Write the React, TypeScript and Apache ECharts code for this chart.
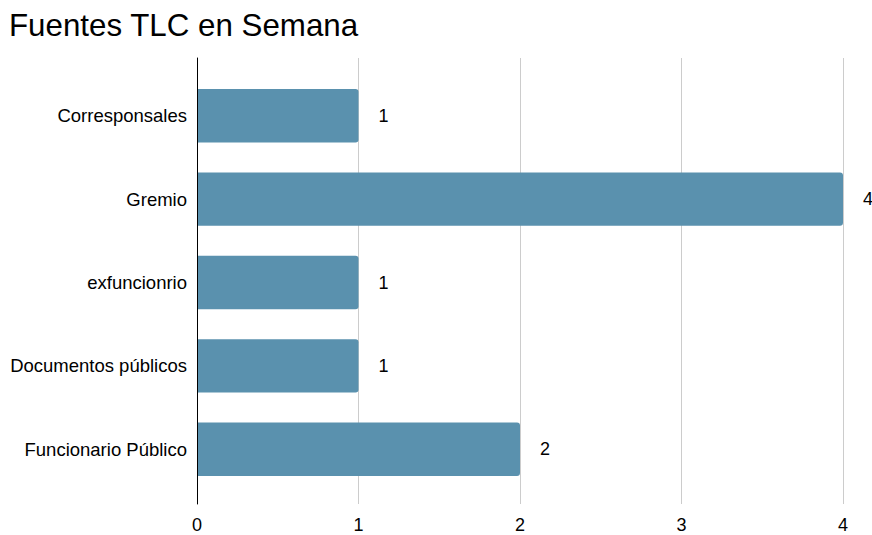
import React, { useEffect, useRef } from "react";
import * as echarts from "echarts";

const categories = ["Corresponsales", "Gremio", "exfuncionrio", "Documentos públicos", "Funcionario Público"];
const values = [1, 4, 1, 1, 2];
const xTicks = [0, 1, 2, 3, 4];

const FONT = "'Liberation Sans', Arial, sans-serif";

export default function App() {
  const ref = useRef<HTMLDivElement>(null);
  useEffect(() => {
    const chart = echarts.init(ref.current!, null, { renderer: "svg" });
    chart.setOption({
      animation: false,
      backgroundColor: "#ffffff",
      textStyle: { fontFamily: FONT },
      title: {
        text: "Fuentes TLC en Semana",
        left: 4,
        top: 5,
        textStyle: { fontSize: 31.3, fontWeight: "normal", color: "#000", fontFamily: FONT },
      },
      grid: [
        { left: 197, right: 29, top: 58, bottom: 31, containLabel: false },
        { left: 197, right: 29, top: 74, bottom: 44, containLabel: false },
      ],
      xAxis: [
        {
          gridIndex: 0,
          type: "value",
          min: xTicks[0],
          max: xTicks[xTicks.length - 1],
          interval: 1,
          axisLine: { show: false },
          axisTick: { show: false },
          splitLine: { show: true, lineStyle: { color: "#cccccc", width: 1 } },
          axisLabel: { color: "#000", fontSize: 18, margin: 12 },
        },
        {
          gridIndex: 1,
          type: "value",
          min: xTicks[0],
          max: xTicks[xTicks.length - 1],
          interval: 1,
          show: false,
        },
      ],
      yAxis: [
        {
          gridIndex: 0,
          type: "value",
          min: 0,
          max: 1,
          axisLine: { show: true, onZero: false, lineStyle: { color: "#000", width: 1 } },
          axisTick: { show: false },
          axisLabel: { show: false },
          splitLine: { show: false },
          z: 10,
        },
        {
          gridIndex: 1,
          type: "category",
          data: categories,
          inverse: true,
          axisLine: { show: false },
          axisTick: { show: false },
          axisLabel: { color: "#000", fontSize: 18.5, margin: 10 },
        },
      ],
      series: [
        {
          type: "bar",
          xAxisIndex: 1,
          yAxisIndex: 1,
          data: values,
          barCategoryGap: "36%",
          itemStyle: { color: "#5a91ae", borderRadius: [0, 3, 3, 0] },
          label: { show: true, position: "right", distance: 20, color: "#000", fontSize: 18 },
        },
      ],
    });
    return () => chart.dispose();
  }, []);
  return <div ref={ref} style={{ width: 872, height: 535, position: "absolute", left: 0, top: 0 }} />;
}
